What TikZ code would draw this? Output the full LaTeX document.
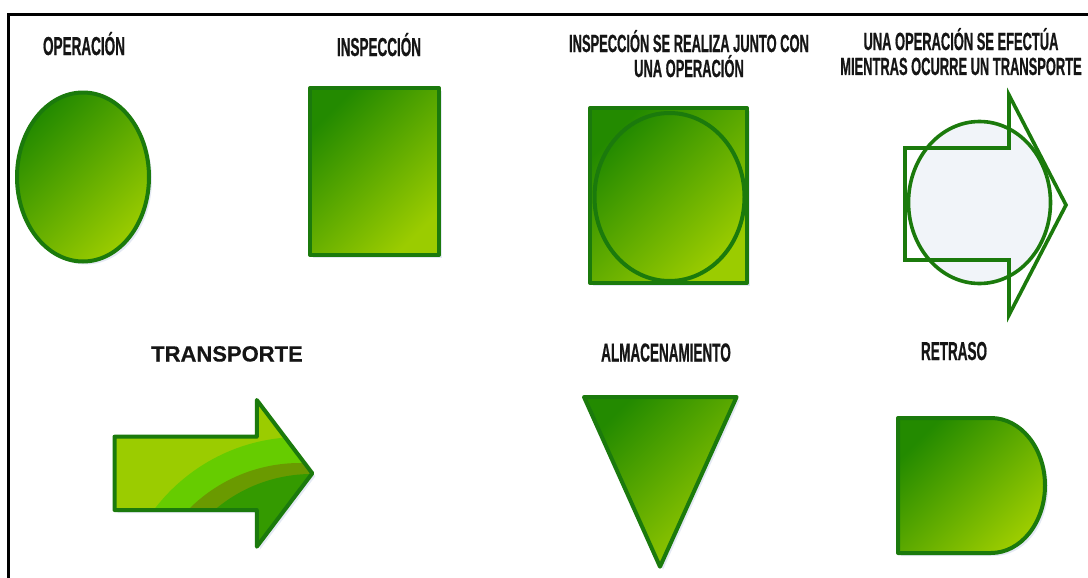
\documentclass[tikz,border=0pt]{standalone}
\usepackage{fontspec}
\usetikzlibrary{shadows}
\newfontfamily\tagfont[FakeStretch=0.52,FakeBold=0.6]{Liberation Sans}
\newfontfamily\headfont[FakeBold=0.4]{Liberation Sans}
\definecolor{symline}{HTML}{1B7A0C}
\definecolor{symdark}{HTML}{238A00}
\definecolor{symlight}{HTML}{9BCC00}
\definecolor{bandlime}{HTML}{66CC00}
\definecolor{bandolive}{HTML}{6A9A00}
\definecolor{banddeep}{HTML}{349A00}
\definecolor{symshadow}{HTML}{CBD5EA}
\definecolor{inkgray}{HTML}{151515}
\definecolor{paleblue}{HTML}{F1F4F9}
\newcommand\transportpath{(114.5,436.7) -- (256.8,436.7) -- (256.8,400) -- (312.3,473.3) -- (256.8,546.7) -- (256.8,510) -- (114.5,510) -- cycle}

\begin{document}
\begin{tikzpicture}[x=0.5pt,y=-0.5pt,
    tag/.style={font=\tagfont\bfseries\fontsize{13}{12.5}\selectfont,text=inkgray,inner sep=0pt,align=center,anchor=base},
    twoline/.style={tag,font=\tagfont\bfseries\fontsize{12.4}{12.5}\selectfont},
    symflat/.style={draw=symline,line width=2pt,line join=round,top color=symdark,bottom color=symlight,shading angle=45},
    symbol/.style={symflat,drop shadow={fill=symshadow,shadow xshift=1.5pt,shadow yshift=-1.5pt}},
    outline/.style={draw=symline,line width=1.8pt,line join=miter}]
  \useasboundingbox (0,0) rectangle (1088,578);
  \fill[white] (0,0) rectangle (1088,578);
  \draw[line width=1.7pt] (8.5,578) -- (8.5,14.5) -- (1088,14.5);

  % first row
  \node[tag] (operacion) at (84,55) {OPERACIÓN};
  \path[symbol] (83,177) ellipse [x radius=66,y radius=84.5];

  \node[tag] (inspeccion) at (379,56) {INSPECCIÓN};
  \path[symbol] (310,88) rectangle (439,255);

  \node[twoline] (combinada) at (689,77) {INSPECCIÓN SE REALIZA JUNTO CON\\UNA OPERACIÓN};
  \path[symbol] (590,108) rectangle (747,283);
  \path[symflat] (669.5,197) ellipse [x radius=75,y radius=84];

  \node[twoline] (efectua) at (961,75) {UNA OPERACIÓN SE EFECTÚA\\MIENTRAS OCURRE UN TRANSPORTE};
  \fill[paleblue] (979.5,202.5) ellipse [x radius=71,y radius=81];
  \draw[outline] (905,148) -- (1009,148) -- (1009,95) -- (1066,205) -- (1009,315) -- (1009,260) -- (905,260) -- cycle;
  \draw[outline] (979.5,202.5) ellipse [x radius=71,y radius=81];

  % second row
  \node[tag,font=\headfont\bfseries\fontsize{11}{12}\selectfont] (transporte) at (227,361.5) {TRANSPORTE};
  \fill[symlight,drop shadow={fill=symshadow,shadow xshift=1.5pt,shadow yshift=-1.5pt}] \transportpath;
  \begin{scope}
    \clip \transportpath;
    \fill[bandlime] (300,620) circle [radius=183];
    \fill[bandolive] (300,620) circle [radius=157];
    \fill[banddeep] (312,624) circle [radius=150];
  \end{scope}
  \draw[symline,line width=2pt,line join=round] \transportpath;

  \node[tag] (almacen) at (666,361.5) {ALMACENAMIENTO};
  \path[symbol] (584,397) -- (736.6,397) -- (660,566.7) -- cycle;

  \node[tag] (retraso) at (954,360) {RETRASO};
  \path[symbol] (898,418) -- (991,418) arc [start angle=-90,end angle=90,x radius=54,y radius=67.5] -- (898,553) -- cycle;
\end{tikzpicture}
\end{document}
